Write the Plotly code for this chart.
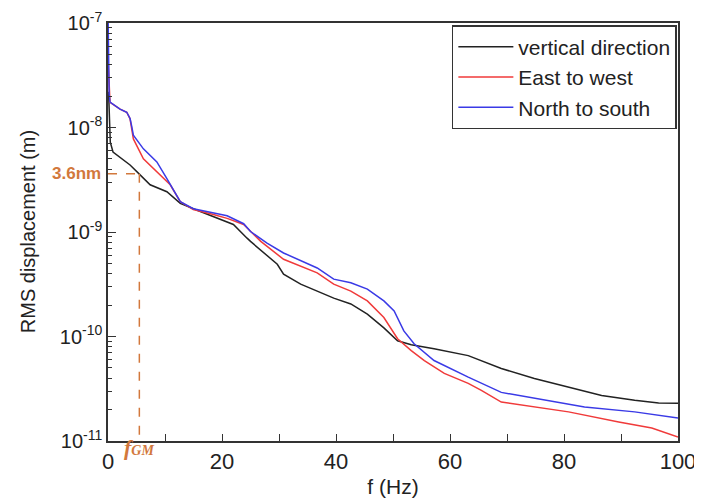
import math
import plotly.graph_objects as go

# ---- data (f in Hz, RMS displacement in m) ----
vert_f = [0.1, 0.35, 0.4, 0.88, 3.87, 5.63, 7.39, 10.33, 12.68, 16.2, 22.0, 24.4, 25.0,
          29.7, 30.8, 33.8, 39.6, 42.6, 45.5, 48.4, 50.8, 53.2, 57.2, 63.2, 65.5, 69.0,
          74.8, 80.8, 86.6, 92.4, 96.6, 100.0]
vert_d = [2.2e-8, 1.05e-8, 7.24e-9, 5.82e-9, 4.38e-9, 3.52e-9, 2.83e-9, 2.43e-9, 1.88e-9,
          1.57e-9, 1.18e-9, 8.73e-10, 8.13e-10, 4.91e-10, 3.94e-10, 3.17e-10, 2.33e-10,
          2.05e-10, 1.64e-10, 1.21e-10, 9.11e-11, 8.35e-11, 7.65e-11, 6.56e-11, 5.89e-11,
          4.94e-11, 3.97e-11, 3.28e-11, 2.73e-11, 2.45e-11, 2.31e-11, 2.30e-11]

ew_f = [0.05, 0.2, 0.35, 2.11, 3.29, 3.87, 4.17, 4.45, 6.21, 8.57, 10.92, 12.68, 14.96,
        18.49, 20.9, 23.8, 25.0, 26.8, 30.8, 36.7, 39.6, 42.6, 45.5, 48.4, 50.8, 53.2,
        55.5, 59.0, 63.2, 65.5, 69.0, 74.8, 80.8, 89.6, 95.4, 100.0]
ew_d = [4.0e-8, 2.02e-8, 1.74e-8, 1.50e-8, 1.40e-8, 1.21e-8, 1.00e-8, 7.78e-9, 5.02e-9,
        3.76e-9, 2.83e-9, 1.95e-9, 1.64e-9, 1.47e-9, 1.35e-9, 1.18e-9, 1.01e-9, 8.13e-10,
        5.48e-10, 4.06e-10, 3.17e-10, 2.72e-10, 2.19e-10, 1.52e-10, 9.52e-11, 7.32e-11,
        5.89e-11, 4.43e-11, 3.56e-11, 3.05e-11, 2.36e-11, 2.12e-11, 1.90e-11, 1.52e-11,
        1.33e-11, 1.09e-11]

ns_f = [0.03, 0.1, 0.2, 0.35, 2.11, 3.29, 3.87, 4.17, 4.45, 6.21, 8.57, 10.33, 12.68,
        14.96, 18.49, 20.9, 23.8, 25.0, 27.9, 30.8, 36.7, 39.6, 42.6, 45.5, 48.4, 50.2,
        51.9, 53.7, 57.2, 63.2, 69.0, 74.8, 83.6, 92.4, 100.0]
ns_d = [1.0e-7, 5.0e-8, 2.1e-8, 1.75e-8, 1.50e-8, 1.40e-8, 1.22e-8, 1.02e-8, 8.43e-9,
        6.25e-9, 4.68e-9, 3.24e-9, 1.95e-9, 1.67e-9, 1.53e-9, 1.43e-9, 1.20e-9, 1.01e-9,
        7.83e-10, 6.30e-10, 4.53e-10, 3.54e-10, 3.27e-10, 2.84e-10, 2.19e-10, 1.76e-10,
        1.13e-10, 8.53e-11, 5.89e-11, 4.08e-11, 2.92e-11, 2.56e-11, 2.12e-11, 1.90e-11,
        1.66e-11]

y_tickvals = [1e-11, 1e-10, 1e-9, 1e-8, 1e-7]
y_ticktext = ["10<sup>-11</sup>", "10<sup>-10</sup>", "10<sup>-9</sup>",
              "10<sup>-8</sup>", "10<sup>-7</sup>"]

f_gm = 5.5
d_gm = 3.6e-9
y_min, y_max = 1e-11, 1e-7

series_names = ["vertical direction", "East to west", "North to south"]
series_colors = ["#222222", "#f03a3a", "#3a3ae6"]
orange = "#d2783c"

fig = go.Figure()
for name, fx, dy, col in zip(series_names, [vert_f, ew_f, ns_f],
                             [vert_d, ew_d, ns_d], series_colors):
    fig.add_trace(go.Scatter(x=fx, y=dy, mode="lines", name=name,
                             line=dict(color=col, width=1.5)))

# dashed guide lines
fig.add_trace(go.Scatter(x=[0, f_gm], y=[d_gm, d_gm], mode="lines", showlegend=False,
                         line=dict(color=orange, width=1.5, dash="dash"), hoverinfo="skip"))
fig.add_trace(go.Scatter(x=[f_gm, f_gm], y=[d_gm, y_min], mode="lines", showlegend=False,
                         line=dict(color=orange, width=1.5, dash="dash"), hoverinfo="skip"))

fig.add_annotation(x=-0.008, xref="paper", xanchor="right", y=math.log10(d_gm), yref="y",
                   text="<b>3.6nm</b>", showarrow=False,
                   font=dict(color=orange, size=17, family="Liberation Sans"))
fig.add_annotation(x=f_gm, xref="x", y=-0.05, yref="paper",
                   text="<b><i>f</i></b><b><i><span style='font-size:14px'>GM</span></i></b>",
                   showarrow=False,
                   font=dict(color=orange, size=22, family="Liberation Serif"))
# y-axis title
fig.add_annotation(x=-0.14, xref="paper", xanchor="center", y=0.5, yref="paper",
                   yanchor="middle", textangle=-90,
                   text="RMS displacement (m)", showarrow=False,
                   font=dict(size=20, color="#222222", family="Liberation Sans"))

axis_common = dict(showline=True, linecolor="#333333", linewidth=1.5, mirror=True,
                   ticks="inside", tickcolor="#333333", showgrid=False, zeroline=False,
                   automargin=False, ticklabeloverflow="allow")

fig.update_xaxes(range=[0, 100], dtick=20, ticklen=7,
                 tickfont=dict(size=22, color="#222222"),
                 minor=dict(dtick=10, ticks="inside", ticklen=7, tickcolor="#333333"),
                 title=dict(text="f (Hz)", font=dict(size=21, color="#222222"), standoff=6),
                 **axis_common)
fig.update_yaxes(type="log", range=[math.log10(y_min), math.log10(y_max)],
                 tickmode="array", tickvals=y_tickvals, ticktext=y_ticktext, ticklen=8,
                 tickfont=dict(size=20, color="#222222"),
                 minor=dict(dtick="D1", ticks="inside", ticklen=4, tickcolor="#333333"),
                 **axis_common)

fig.update_layout(
    width=702, height=503,
    margin=dict(l=100, r=32, t=15, b=70, autoexpand=False),
    plot_bgcolor="white", paper_bgcolor="white",
    font=dict(family="Liberation Sans", color="#222222"),
    legend=dict(x=0.998, xanchor="right", y=0.995, yanchor="top",
                bordercolor="#333333", borderwidth=1.5, bgcolor="white",
                font=dict(size=21), tracegroupgap=0, itemwidth=55),
    showlegend=True,
)

fig.write_html("out.html")
